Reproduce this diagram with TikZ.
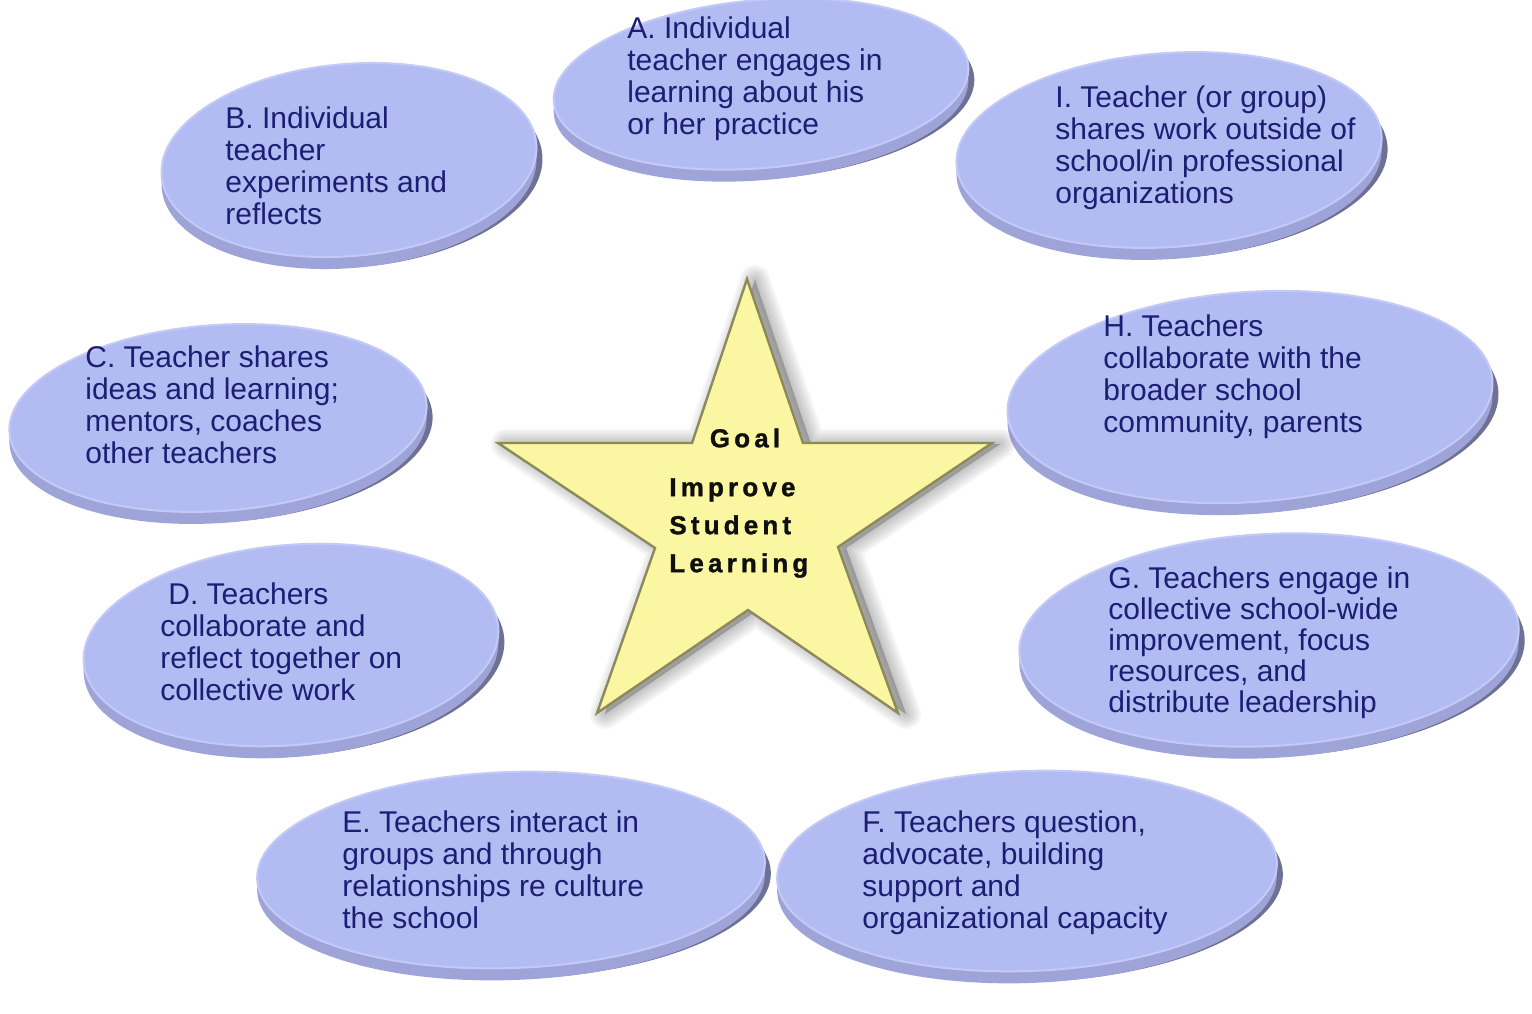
\documentclass[tikz,border=0pt]{standalone}
\usepackage{fontspec}
\setmainfont{Liberation Sans}
\newfontfamily\goalfont[LetterSpace=16,FakeBold=1.2]{Liberation Sans Bold}
\usetikzlibrary{shapes.geometric}
\definecolor{facecol}{RGB}{179,187,243}
\definecolor{faceedge}{RGB}{196,202,247}
\definecolor{rimcol}{RGB}{158,164,216}
\definecolor{darkrim}{RGB}{110,113,148}
\definecolor{txtcol}{RGB}{28,30,115}
\definecolor{starfill}{RGB}{250,246,162}
\definecolor{starborder}{RGB}{140,138,92}
\tikzset{
  discface/.style={ellipse, inner sep=0pt, fill=facecol, draw=faceedge, line width=1pt},
  discrim/.style={ellipse, inner sep=0pt, fill=rimcol},
  discshadow/.style={ellipse, inner sep=0pt, fill=darkrim},
  lbl/.style={text=txtcol, font=\fontsize{15pt}{16pt}\selectfont, align=left, anchor=north west, inner sep=0pt},
  goaltxt/.style={text={rgb,255:red,15;green,15;blue,15}, font=\goalfont\fontsize{13pt}{19pt}\selectfont, inner sep=0pt},
  starshape/.style={insert path={(747,279)--(803,443)--(992,443)--(838,547)--(898,713)--(748,610)--(597,713)--(655,548)--(498,443)--(692,443)--cycle}}
}
\newcommand\mydisc[6]{%
  \node[discshadow, minimum width=#4pt, minimum height=#5pt, rotate=#6] (#1s) at (#2+6,#3+11) {};
  \node[discrim, minimum width=#4pt, minimum height=#5pt, rotate=#6] (#1r) at (#2,#3+12) {};
  \node[discface, minimum width=#4pt, minimum height=#5pt, rotate=#6] (#1) at (#2,#3) {};
}
\begin{document}
\begin{tikzpicture}[x=0.5pt,y=-0.5pt]
\useasboundingbox[fill=white] (0,0) rectangle (1532,1013);
% discs
\mydisc{A}{761}{84}{208}{84}{5}
\mydisc{B}{349}{160}{188}{96}{5}
\mydisc{I}{1169}{150}{213}{97}{4}
\mydisc{C}{218}{418}{209}{93}{4}
\mydisc{D}{291}{645}{208}{100}{5}
\mydisc{H}{1250}{397}{243}{105}{4}
\mydisc{G}{1269}{640}{250}{106}{3}
\mydisc{E}{511}{870}{254}{98}{2}
\mydisc{F}{1027}{871}{250}{100}{2}
% labels
\node[lbl] (At) at (627,16) {A. Individual\\teacher engages in\\learning about his\\or her practice};
\node[lbl] (Bt) at (225,106) {B. Individual\\teacher\\experiments and\\reflects};
\node[lbl] (It) at (1055,85) {I. Teacher (or group)\\shares work outside of\\school/in professional\\organizations};
\node[lbl] (Ct) at (85,345) {C. Teacher shares\\ideas and learning;\\mentors, coaches\\other teachers};
\node[lbl] (Ht) at (1103,314) {H. Teachers\\collaborate with the\\broader school\\community, parents};
\node[lbl] (Dt) at (160,582) {\hspace*{4pt}D. Teachers\\collaborate and\\reflect together on\\collective work};
\node[lbl, font=\fontsize{15pt}{15.6pt}\selectfont] (Gt) at (1108,566) {G. Teachers engage in\\collective school-wide\\improvement, focus\\resources, and\\distribute leadership};
\node[lbl] (Et) at (342,810) {E. Teachers interact in\\groups and through\\relationships re culture\\the school};
\node[lbl] (Ft) at (862,810) {F. Teachers question,\\advocate, building\\support and\\organizational capacity};
% star shadow (soft)
\foreach \w in {2,6,10,14,18,22,26,30}
  \filldraw[black!75, opacity=0.045, line width=\w*0.5pt, line join=round, shift={(8,1)}, starshape];
% star
\filldraw[fill=starfill, draw=starborder, line width=1.2pt, line join=miter, starshape];
\coordinate (starc) at (747,500);
\node[goaltxt] (goal) at (745,438) {Goal};
\node[goaltxt, anchor=west, align=left] (aim) at (669,528) {Improve\\Student\\Learning};
\end{tikzpicture}
\end{document}
